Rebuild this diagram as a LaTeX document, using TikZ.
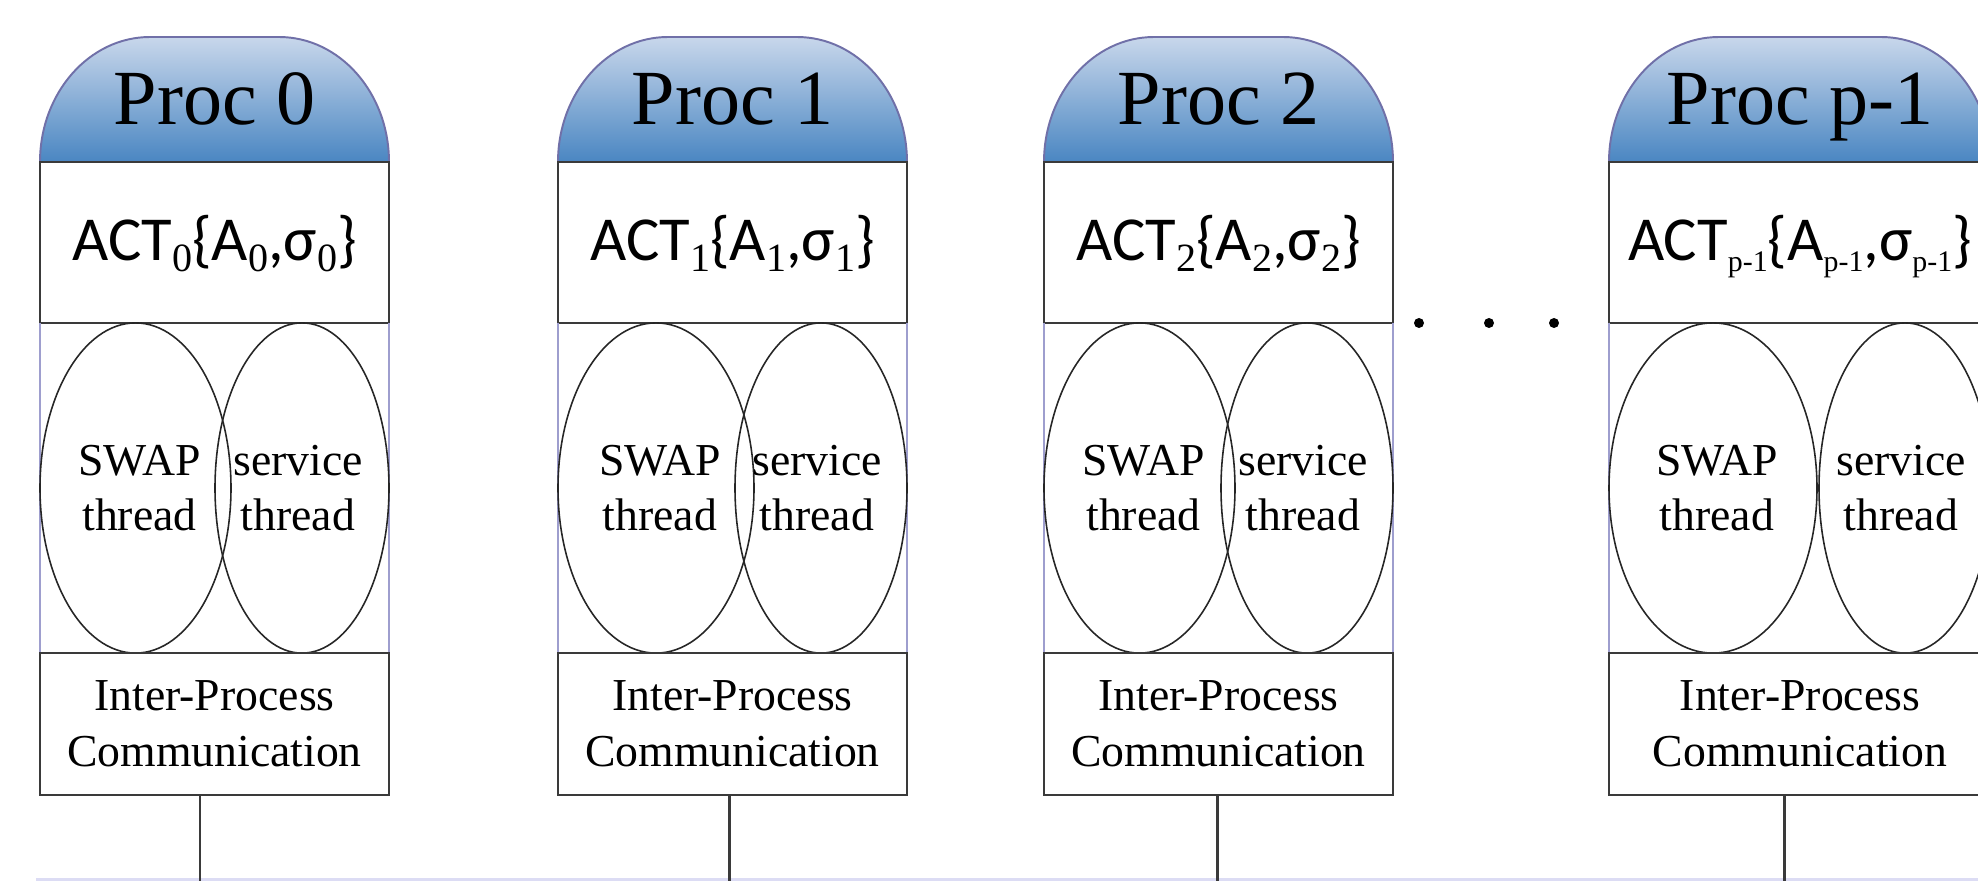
\documentclass[tikz,border=0pt]{standalone}
\usepackage{fontspec}
\setmainfont{Liberation Serif}
\newfontfamily\calfont{Carlito}
\usetikzlibrary{shapes.geometric}
\definecolor{domeTop}{HTML}{C8D7EB}
\definecolor{domeBot}{HTML}{4A86C2}
\definecolor{domeLine}{HTML}{7070A8}
\definecolor{boxLine}{HTML}{3A3A3A}
\definecolor{sideLine}{HTML}{9E9ECE}
\definecolor{busLine}{HTML}{DCDCF4}

\newcommand{\subidx}[2]{\raisebox{-0.11cm}{\rmfamily\fontsize{#1}{12}\selectfont #2}}
\newcommand{\actlabel}[2]{ACT\subidx{#1}{#2}\{A\subidx{#1}{#2},σ\subidx{#1}{#2}\}}

\begin{document}
\begin{tikzpicture}[x=0.01cm, y=0.01cm,
  dome/.style={top color=domeTop, bottom color=domeBot, draw=domeLine, line width=0.55pt},
  proctitle/.style={anchor=base, inner sep=0pt, font=\fontsize{22.2}{26}\selectfont},
  actbox/.style={draw=boxLine, line width=0.7pt, inner sep=0pt, outer sep=0pt, minimum height=1.61cm,
    text height=0.45cm, text depth=0.1cm, font=\calfont\fontsize{17.8}{20}\selectfont},
  sideline/.style={draw=sideLine, line width=0.5pt},
  thread/.style={ellipse, draw=black!85, line width=0.45pt, inner sep=0pt, minimum height=3.3cm},
  threadtxt/.style={align=center, inner sep=0pt, font=\fontsize{13}{15.8}\selectfont},
  ipcbox/.style={draw=boxLine, line width=0.7pt, inner sep=0pt, outer sep=0pt, minimum height=1.42cm,
    align=center, font=\fontsize{13}{15.8}\selectfont},
  link/.style={draw=boxLine, line width=0.85pt},
  bus/.style={draw=busLine, line width=0.85pt},
  dotmark/.style={circle, fill=black, inner sep=0pt, minimum size=0.1cm}
]
  \useasboundingbox (0,0) rectangle (1978,881);
  \clip (0,0) rectangle (1978,881);

  % shared link at the bottom
  \coordinate (busL) at (36,1.5);
  \coordinate (busR) at (1978,1.5);
  \draw[bus] (busL) -- (busR);

  % one column per process
  \foreach \i/\L/\R/\tap/\sw/\sv/\sub/\ss in {0/40/389/200/191/174/0/11.4, 1/558/907/729/196/172/1/11.4,
      2/1044/1393/1217/191/172/2/11.4, 3/1609/1991/1784/208/172/p-1/8.5} {
    \path[dome] (\L,719) arc[start angle=180, end angle=90, x radius=110, y radius=125]
      -- ({\R-110},844) arc[start angle=90, end angle=0, x radius=110, y radius=125] -- cycle;
    \node[proctitle] (proc\i) at ({(\L+\R)/2},756) {Proc \sub};
    \node[actbox, minimum width={(\R-\L)*0.01cm}] (act\i) at ({(\L+\R)/2},638.5) {\actlabel{\ss}{\sub}};

    \draw[sideline] (\L,558) -- (\L,228) (\R,558) -- (\R,228);
    \node[thread, minimum width={\sw*0.01cm}] (swap\i) at ({\L+\sw/2},393) {};
    \node[thread, minimum width={\sv*0.01cm}] (serv\i) at ({\R-\sv/2},393) {};
    \node[threadtxt, xshift=0.04cm] (swaptxt\i) at (swap\i) {SWAP\\thread};
    \node[threadtxt, xshift=-0.04cm] (servtxt\i) at (serv\i) {service\\thread};

    \node[ipcbox, minimum width={(\R-\L)*0.01cm}] (ipc\i) at ({(\L+\R)/2},157) {Inter-Process\\Communication};
    \coordinate (tap\i) at (\tap,0);
    \draw[link] (ipc\i.south -| tap\i) -- (tap\i);
  }

  % more processes
  \foreach \k/\dx in {1/1419, 2/1489, 3/1554}
    \node[dotmark] (dot\k) at (\dx,558) {};
\end{tikzpicture}
\end{document}
